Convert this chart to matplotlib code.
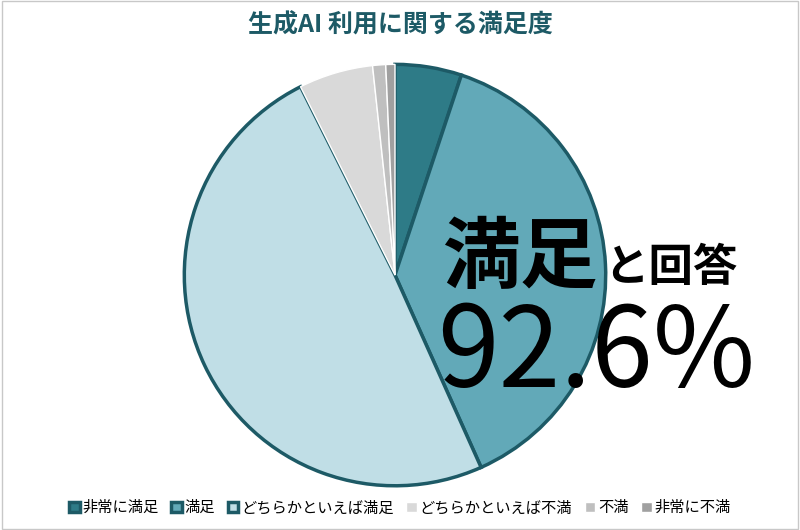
import matplotlib.pyplot as plt

plt.rcParams['font.family'] = ['Noto Sans CJK JP', 'DejaVu Sans']

labels = ['非常に満足', '満足', 'どちらかといえば満足', 'どちらかといえば不満', '不満', '非常に不満']
values = [5.1, 38.2, 49.3, 5.7, 1.0, 0.7]
colors = ['#2E7B87', '#62A9B8', '#C0DEE6', '#D9D9D9', '#BFBFBF', '#A0A0A0']
edges = ['#1D5A66', '#1D5A66', '#1D5A66', 'white', 'white', 'white']

fig = plt.figure(figsize=(8, 5.3), dpi=100)
fig.patches.append(plt.Rectangle((0.002, 0.002), 0.996, 0.996, transform=fig.transFigure,
                                 fill=False, edgecolor='#C8C8C8', lw=1))
ax = fig.add_axes([0.225, 0.0755, 0.5375, 0.811])
wedges, _ = ax.pie(values, colors=colors, startangle=90, counterclock=False)
for w, ec in zip(wedges, edges):
    w.set_edgecolor(ec)
    w.set_linewidth(2.5 if ec != 'white' else 1)
ax.set_xlim(-1.02, 1.02)
ax.set_ylim(-1.02, 1.02)
ax.set_aspect('equal')

fig.text(0.5, 0.952, '生成AI 利用に関する満足度', ha='center', va='center',
         fontsize=18, fontweight='bold', color='#1D5A66')
fig.text(0.553, 0.51, '満足', fontsize=56, fontweight='bold', ha='left', va='center')
fig.text(0.755, 0.495, 'と回答', fontsize=32, fontweight='bold', ha='left', va='center')
fig.text(0.745, 0.33, '92.6%', fontsize=80, ha='center', va='center')

fig.legend(wedges, labels, loc='lower center', ncol=6, frameon=False, fontsize=11,
           handlelength=0.7, handleheight=0.7, handletextpad=0.2, columnspacing=0.8,
           bbox_to_anchor=(0.5, 0.0))
fig.savefig('out.png')
